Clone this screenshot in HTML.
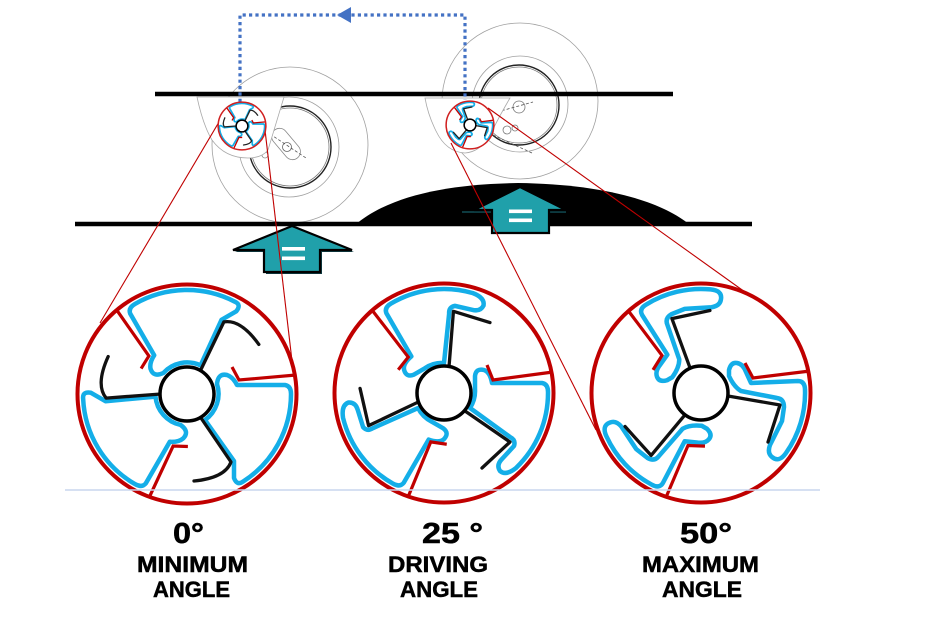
<!DOCTYPE html>
<html><head><meta charset="utf-8"><style>
html,body{margin:0;padding:0;background:#fff;}
svg{display:block;}
text{font-family:"Liberation Sans",Arial,sans-serif;font-weight:bold;fill:#000;stroke:#000;stroke-width:0.5;}
</style></head><body>
<svg xmlns="http://www.w3.org/2000/svg" width="930" height="620" viewBox="0 0 930 620">
<defs>
 <path id="c0" d="M30,-10 Q31,-21 40,-19 Q46,-17 50,-9 L98,-9 Q104,-8 104,0 A104,104 0 0 1 56,87.6 Q50,92 47,84 L47,67 L18,26 A32,32 0 0 0 30,-10 Z"/>
 <path id="a0" d="M14,24 L44,68 Q38,84 7,87"/>
 <path id="d0" d="M109,-19 L52,-14 L45,-27"/>
 <path id="c25" d="M31,-4 L31,-17 Q32,-25 40,-23 Q46,-21 48,-10 L98,-10 Q104,-9 104,-1 A104,104 0 0 1 72,75 Q62,83 56,78 Q52,72 58,66 L70,53 Q72,47 66,44 L26,15 A31,31 0 0 0 31,-4 Z"/>
 <path id="a25" d="M21,18 L66,49 L38,75"/>
 <path id="d25" d="M109,-21 L49,-13 L43,-28"/>
 <path id="c50" d="M28,-17 L28,-23 Q30,-31 36,-30 Q42,-29 45,-21 L50,-10 L97,-12 Q104,-12 104,-3 A104,104 0 0 1 85,60 Q78,70 71,64 Q66,60 69,52 L81,28 L83,14 Q83,6 76,5 L40,-2 Q33,-6 28,-17 Z"/>
 <path id="a50" d="M27,3 L79,12 L67,49"/>
 <path id="d50" d="M109,-22 L52,-15 L44,-30"/>
</defs>

<rect width="930" height="620" fill="#fff"/>

<!-- left wheel -->
<g fill="none" stroke="#a0a0a0" stroke-width="0.8">
 <circle cx="290" cy="145" r="78"/>
 <circle cx="289" cy="147" r="50"/>
 <circle cx="290" cy="147" r="41" stroke="#222" stroke-width="1.4"/>
 <circle cx="290" cy="147" r="39" stroke="#777" stroke-width="0.8"/>
 <rect x="-8" y="-18" width="16" height="36" rx="8" transform="translate(286,144) rotate(-40)" stroke="#888"/>
 <circle cx="287" cy="147" r="4.5" stroke="#666"/>
 <line x1="270" y1="134" x2="306" y2="158" stroke="#555" stroke-dasharray="3 2"/>
 <circle cx="265" cy="155" r="3" stroke="#888"/>
</g>
<path d="M197,97 L284,97 L268,150 Q262,158 248,158 Q225,158 212,140 Q203,125 197,97 Z" fill="#fff" stroke="#aaa" stroke-width="0.8"/>

<!-- right wheel -->
<g fill="none" stroke="#a0a0a0" stroke-width="0.8">
 <circle cx="520" cy="101" r="78"/>
 <circle cx="520" cy="104" r="48"/>
 <circle cx="519" cy="105" r="40" stroke="#222" stroke-width="1.4"/>
 <circle cx="519" cy="105" r="38" stroke="#777" stroke-width="0.8"/>
 <circle cx="519" cy="107" r="6" stroke="#777"/>
 <circle cx="507" cy="130" r="4" stroke="#777"/>
 <circle cx="515" cy="128" r="3" stroke="#777"/>
 <line x1="497" y1="112" x2="533" y2="102" stroke="#555" stroke-dasharray="3 2"/>
 <line x1="493" y1="135" x2="532" y2="153" stroke="#555" stroke-dasharray="3 2"/>
</g>
<path d="M425,98 L510,98 Q500,115 490,135 Q480,152 465,153 Q446,152 436,131 Q428,115 425,98 Z" fill="#fff" stroke="#aaa" stroke-width="0.8"/>

<!-- bars and bump -->
<line x1="155" y1="94" x2="673" y2="94" stroke="#000" stroke-width="4.4"/>
<path d="M355,225 C390,195 450,184 518,183 C600,184 660,200 690,225 Z" fill="#000"/>
<line x1="75" y1="224" x2="752" y2="224" stroke="#000" stroke-width="4.5"/>

<!-- dotted feedback line -->
<path d="M240,102 L240,15 L465,15 L465,100" fill="none" stroke="#4472c4" stroke-width="3.2" stroke-dasharray="3.2 3.2"/>
<polygon points="337,15 351,7 351,23" fill="#4472c4"/>

<!-- teal arrows -->
<polygon points="294,228 354,252 322,252 322,274 266,274 266,252 235,252" fill="#0d3a40"/>
<polygon points="292,226 352,250 320,250 320,272 264,272 264,250 233,250" fill="#20a0aa" stroke="#000" stroke-width="2.2" stroke-linejoin="miter"/>
<rect x="282" y="247" width="23" height="3.6" fill="#fff"/>
<rect x="282" y="256.5" width="23" height="3.6" fill="#fff"/>

<polygon points="462,212 566,212" fill="none" stroke="#0d3a40" stroke-width="2"/>
<polygon points="520,187 566,210 549,210 549,233 492,233 492,210 474,210" fill="#20a0aa" stroke="#000" stroke-width="2.2"/>
<rect x="509" y="209.5" width="23" height="3.6" fill="#fff"/>
<rect x="509" y="218.5" width="23" height="3.6" fill="#fff"/>

<!-- red connector lines -->
<g stroke="#c00000" stroke-width="1.1" fill="none">
 <line x1="219" y1="122" x2="100" y2="323"/>
 <line x1="265" y1="130" x2="294" y2="378"/>
 <line x1="451" y1="143" x2="596" y2="430"/>
 <line x1="488" y1="108" x2="745" y2="292"/>
</g>

<!-- small circles -->
<g transform="translate(242,126) scale(0.218)">
 <circle r="109.5" fill="#fff"/>
 <g fill="none" stroke="#14aee8" stroke-width="8" stroke-linejoin="round">
  <use href="#c0"/><use href="#c0" transform="rotate(120)"/><use href="#c0" transform="rotate(240)"/>
 </g>
 <g fill="none" stroke="#c00000" stroke-width="6">
  <use href="#d0"/><use href="#d0" transform="rotate(120)"/><use href="#d0" transform="rotate(240)"/>
 </g>
 <g fill="none" stroke="#222" stroke-width="6" stroke-linecap="round" stroke-linejoin="round">
  <use href="#a0"/><use href="#a0" transform="rotate(120)"/><use href="#a0" transform="rotate(240)"/>
 </g>
 <circle r="27" fill="#fff" stroke="#000" stroke-width="7"/>
 <circle r="109.5" fill="none" stroke="#d02020" stroke-width="7"/>
</g>
<g transform="translate(470,125) scale(0.218)">
 <circle r="109.5" fill="#fff"/>
 <g fill="none" stroke="#14aee8" stroke-width="8" stroke-linejoin="round">
  <use href="#c50"/><use href="#c50" transform="rotate(120)"/><use href="#c50" transform="rotate(240)"/>
 </g>
 <g fill="none" stroke="#c00000" stroke-width="6">
  <use href="#d50"/><use href="#d50" transform="rotate(120)"/><use href="#d50" transform="rotate(240)"/>
 </g>
 <g fill="none" stroke="#222" stroke-width="6" stroke-linecap="round" stroke-linejoin="round">
  <use href="#a50"/><use href="#a50" transform="rotate(120)"/><use href="#a50" transform="rotate(240)"/>
 </g>
 <circle r="27" fill="#fff" stroke="#000" stroke-width="7"/>
 <circle r="109.5" fill="none" stroke="#d02020" stroke-width="7"/>
</g>

<!-- big circles -->
<g transform="translate(187,394)">
 <circle r="109.5" fill="#fff"/>
 <g fill="none" stroke="#14aee8" stroke-width="4.5" stroke-linejoin="round">
  <use href="#c0"/><use href="#c0" transform="rotate(120)"/><use href="#c0" transform="rotate(240)"/>
 </g>
 <g fill="none" stroke="#c00000" stroke-width="3.2">
  <use href="#d0"/><use href="#d0" transform="rotate(120)"/><use href="#d0" transform="rotate(240)"/>
 </g>
 <g fill="none" stroke="#111" stroke-width="3.3" stroke-linecap="round" stroke-linejoin="round">
  <use href="#a0"/><use href="#a0" transform="rotate(120)"/><use href="#a0" transform="rotate(240)"/>
 </g>
 <circle r="27" fill="#fff" stroke="#000" stroke-width="3.5"/>
 <circle r="109.5" fill="none" stroke="#c00000" stroke-width="4"/>
</g>
<g transform="translate(444,393)">
 <circle r="109.5" fill="#fff"/>
 <g fill="none" stroke="#14aee8" stroke-width="4.5" stroke-linejoin="round">
  <use href="#c25"/><use href="#c25" transform="rotate(120)"/><use href="#c25" transform="rotate(240)"/>
 </g>
 <g fill="none" stroke="#c00000" stroke-width="3.2">
  <use href="#d25"/><use href="#d25" transform="rotate(120)"/><use href="#d25" transform="rotate(240)"/>
 </g>
 <g fill="none" stroke="#111" stroke-width="3.3" stroke-linecap="round" stroke-linejoin="round">
  <use href="#a25"/><use href="#a25" transform="rotate(120)"/><use href="#a25" transform="rotate(240)"/>
 </g>
 <circle r="27" fill="#fff" stroke="#000" stroke-width="3.5"/>
 <circle r="109.5" fill="none" stroke="#c00000" stroke-width="4"/>
</g>
<g transform="translate(701,393)">
 <circle r="109.5" fill="#fff"/>
 <g fill="none" stroke="#14aee8" stroke-width="4.5" stroke-linejoin="round">
  <use href="#c50"/><use href="#c50" transform="rotate(120)"/><use href="#c50" transform="rotate(240)"/>
 </g>
 <g fill="none" stroke="#c00000" stroke-width="3.2">
  <use href="#d50"/><use href="#d50" transform="rotate(120)"/><use href="#d50" transform="rotate(240)"/>
 </g>
 <g fill="none" stroke="#111" stroke-width="3.3" stroke-linecap="round" stroke-linejoin="round">
  <use href="#a50"/><use href="#a50" transform="rotate(120)"/><use href="#a50" transform="rotate(240)"/>
 </g>
 <circle r="27" fill="#fff" stroke="#000" stroke-width="3.5"/>
 <circle r="109.5" fill="none" stroke="#c00000" stroke-width="4"/>
</g>

<!-- faint baseline -->
<line x1="65" y1="490" x2="820" y2="490" stroke="#c9d5ee" stroke-width="1.5"/>

<!-- labels -->
<text x="173" y="543" font-size="29" textLength="31" lengthAdjust="spacingAndGlyphs">0°</text>
<text x="137" y="572" font-size="22" textLength="111" lengthAdjust="spacingAndGlyphs">MINIMUM</text>
<text x="153" y="597" font-size="22" textLength="77" lengthAdjust="spacingAndGlyphs">ANGLE</text>

<text x="422" y="543" font-size="29" textLength="61" lengthAdjust="spacingAndGlyphs">25 °</text>
<text x="388" y="572" font-size="22" textLength="100" lengthAdjust="spacingAndGlyphs">DRIVING</text>
<text x="400" y="597" font-size="22" textLength="78" lengthAdjust="spacingAndGlyphs">ANGLE</text>

<text x="680" y="543" font-size="29" textLength="52" lengthAdjust="spacingAndGlyphs">50°</text>
<text x="642" y="572" font-size="22" textLength="117" lengthAdjust="spacingAndGlyphs">MAXIMUM</text>
<text x="662" y="597" font-size="22" textLength="80" lengthAdjust="spacingAndGlyphs">ANGLE</text>
</svg>
</body></html>
